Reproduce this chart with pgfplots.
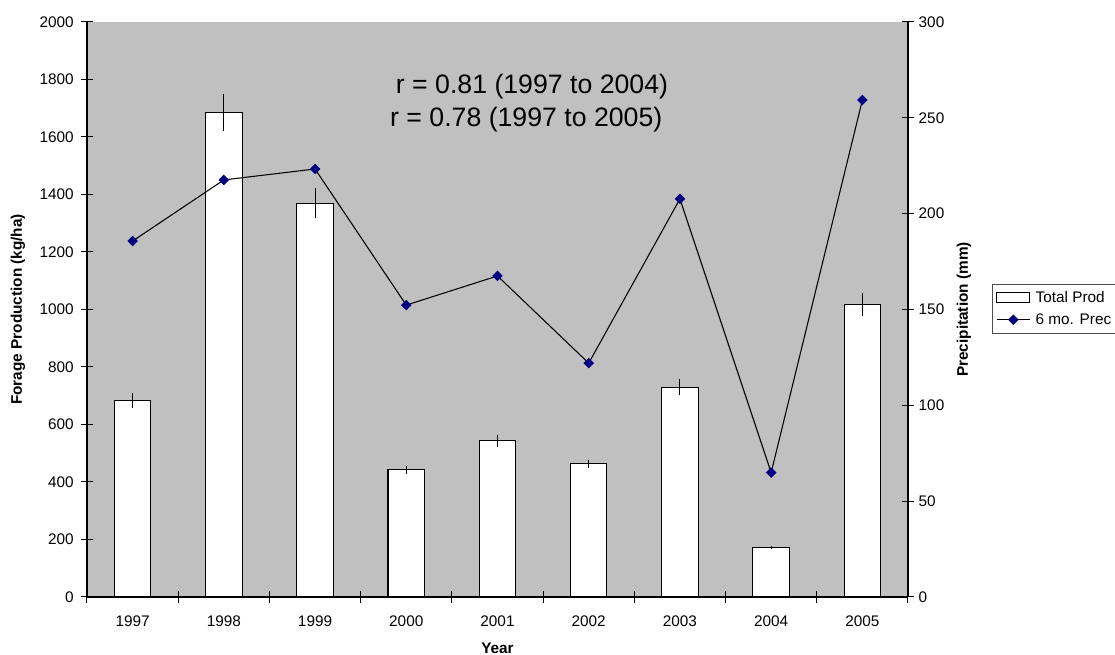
\documentclass[border=0pt]{standalone}
\usepackage{fontspec}
\setmainfont{Liberation Sans}
\usepackage{pgfplots}
\pgfplotsset{compat=1.18}
\definecolor{bg}{RGB}{192,192,192}
\definecolor{navyc}{RGB}{0,0,128}
\pgfplotsset{
  lineleg/.style={legend image code/.code={\draw[##1, mark repeat=2, mark phase=2] plot coordinates {(0cm,0cm) (0.435cm,0cm) (0.87cm,0cm)};}},
  barleg/.style={legend image code/.code={\draw[draw=black, line width=0.8pt, fill=white] (0cm,-0.12cm) rectangle (0.87cm,0.12cm);}},
}
\pgfplotstableread{
x prod err
0 682 26
1 1685 65
2 1370 53
3 442 15
4 543 20
5 463 15
6 729 28
7 171 5
8 1016 40
}\prodtable
\pgfplotstableread{
x prec
0 185.7
1 217.6
2 223.3
3 152.3
4 167.5
5 122.0
6 207.7
7 64.9
8 259.3
}\prectable
\begin{document}
\begin{tikzpicture}
\pgfplotsset{
  common/.style={
    scale only axis,
    width=615.75pt, height=431.25pt,
    xmin=-0.5, xmax=8.5,
    tick align=center,
    major tick length=9pt, minor tick length=9pt,
    tick style={black, line width=0.75pt},
    axis line style={black, line width=0.8pt},
    /pgf/number format/assume math mode=true,
    /pgf/number format/1000 sep={},
    tick label style={font=\fontsize{11.5}{13.5}\selectfont, black},
    label style={font=\fontsize{11.5}{13.5}\selectfont\bfseries},
  }
}
\begin{axis}[common,
  axis x line=bottom, axis y line=left,
  axis line style={-},
  axis background/.style={fill=bg},
  ymin=0, ymax=2000,
  ytick={0,200,...,2000},
  xtick={0,...,8},
  xticklabels={1997,1998,1999,2000,2001,2002,2003,2004,2005},
  major x tick style={draw=none},
  minor xtick={-0.5,0.5,...,8.5},
  xticklabel style={yshift=-6pt},
  yticklabel style={xshift=-2pt},
  xlabel={Year},
  ylabel={Forage Production (kg/ha)},
  xlabel style={at={(axis description cs:0.5,-0.0887)}, anchor=center},
  ylabel style={at={(axis description cs:-0.084,0.5)}, anchor=center},
]
\addplot[ybar, bar width=0.4, draw=black, line width=0.8pt, fill=white,
  error bars/.cd, y dir=both, y explicit, error mark=none,
  error bar style={black, line width=0.8pt}]
  table[x=x, y=prod, y error=err] {\prodtable};
\node[font=\fontsize{20}{24}\selectfont, anchor=center] at (axis description cs:0.542,0.887) {r = 0.81 (1997 to 2004)};
\node[font=\fontsize{20}{24}\selectfont, anchor=center] at (axis description cs:0.535,0.831) {r = 0.78 (1997 to 2005)};
\end{axis}
\begin{axis}[common,
  axis x line=none, axis y line*=right,
  axis line style={-},
  ymin=0, ymax=300,
  ytick={0,50,...,300},
  ylabel={Precipitation (mm)},
  ylabel style={at={(axis description cs:1.0682,0.5)}, anchor=center},
  legend style={at={(axis description cs:1.1023,0.5443)}, anchor=north west,
    draw=black!70, fill=white, font=\fontsize{11.5}{13.5}\selectfont,
    row sep=3pt, inner sep=3pt, column sep=2pt},
  legend cell align=left,
]
\addlegendimage{barleg}
\addlegendentry{Total Prod\rule{40pt}{0pt}}
\addplot[black, line width=0.8pt, mark=square*, mark size=2.4pt,
  mark options={rotate=45, fill=navyc, draw=navyc}, lineleg]
  table[x=x, y=prec] {\prectable};
\addlegendentry{6 mo. Prec\rule{40pt}{0pt}}
\end{axis}
\pgfresetboundingbox
\path (-65.25pt,-43.5pt) rectangle (771pt,447.75pt);
\end{tikzpicture}
\end{document}
